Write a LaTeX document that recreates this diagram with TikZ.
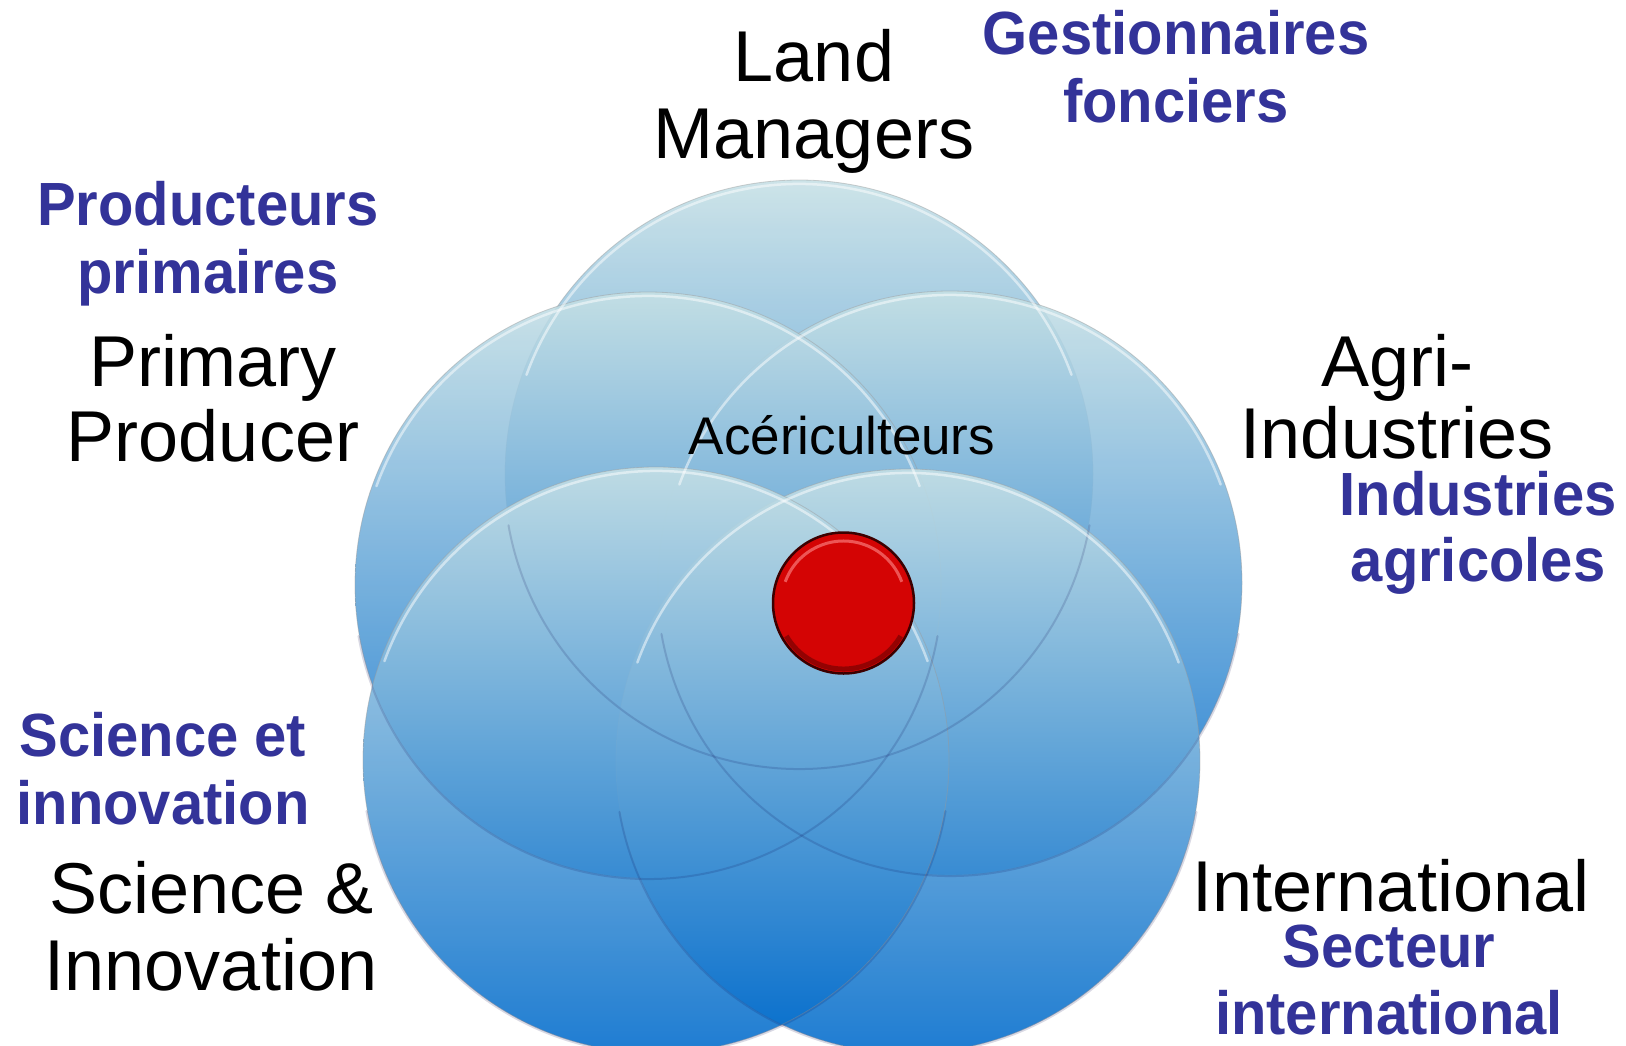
\documentclass[tikz,border=0pt]{standalone}
\usepackage{fontspec}
\setmainfont{Liberation Sans}
\newfontfamily\frfont{Liberation Sans}[FakeStretch=0.95]
\definecolor{ctop}{RGB}{198,224,229}
\definecolor{cmid}{RGB}{84,165,212}
\definecolor{cbot}{RGB}{0,107,204}
\definecolor{frblue}{RGB}{51,51,153}
\definecolor{dotred}{RGB}{212,4,4}
\definecolor{dotedge}{RGB}{60,0,0}
\begin{document}
\begin{tikzpicture}[x=1pt,y=-1pt,
  venn/.style={circle, inner sep=0pt, minimum size=#1, fill opacity=0.88,
    top color=ctop, middle color=cmid, bottom color=cbot,
    draw=black!40, draw opacity=0.45, line width=0.8pt},
  rimhl/.style={white, opacity=0.5, line width=2.5pt, line cap=round},
  rimsh/.style={black!70!blue, opacity=0.15, line width=2pt, line cap=round},
  blk/.style={font=\fontsize{72}{80}\selectfont, anchor=base, inner sep=0pt, text=black},
  frl/.style={font=\frfont\bfseries\fontsize{61}{68}\selectfont, anchor=base, inner sep=0pt, text=frblue},
  center/.style={font=\fontsize{53}{60}\selectfont, anchor=base, inner sep=0pt, text=black}]
\clip (0,0) rectangle (1626,1045);
\fill[white] (0,0) rectangle (1626,1045);

% Venn circles
\node[venn=588pt] (ctop) at (799,474) {};
\node[venn=584pt] (cright) at (950,583) {};
\node[venn=586pt] (cleft) at (648,585) {};
\node[venn=584pt] (cbr) at (908,761) {};
\node[venn=586pt] (cbl) at (656,760) {};

% rim highlights and shadows
\foreach \c/\r in {ctop/294, cright/292, cleft/293, cbr/292, cbl/293}{
  \pgfmathsetmacro{\ri}{\r-4}
  \draw[rimhl] (\c.center) ++(200:\ri) arc[start angle=200, end angle=340, radius=\ri];
  \draw[rimsh] (\c.center) ++(10:\r+1) arc[start angle=10, end angle=170, radius=\r+1];
}

% red dot
\node[circle, minimum size=141pt, inner sep=0pt, fill=dotred, draw=dotedge, line width=2.5pt] (dot) at (843.5,603) {};
\draw[red!45!white, opacity=0.6, line width=3pt] (dot.center) ++(200:62) arc[start angle=200, end angle=340, radius=62];
\draw[black, opacity=0.3, line width=5pt] (dot.center) ++(30:66) arc[start angle=30, end angle=150, radius=66];

% centre label
\node[center] (acer) at (842,454) {Acériculteurs};

% black labels
\node[blk] (land1) at (814,81) {Land};
\node[blk] (land2) at (814,158) {Managers};
\node[blk] (prim1) at (213,386) {Primary};
\node[blk] (prim2) at (213,461) {Producer};
\node[blk] (agri1) at (1397,386) {Agri-};
\node[blk] (agri2) at (1397,458) {Industries};
\node[blk] (sci1) at (212,913) {Science \&};
\node[blk] (sci2) at (211,990) {Innovation};
\node[blk] (intl) at (1391,911) {International};

% French labels
\node[frl] (gest1) at (1176,54) {Gestionnaires};
\node[frl] (gest2) at (1176,122) {fonciers};
\node[frl] (prod1) at (208,225) {Producteurs};
\node[frl] (prod2) at (208,293) {primaires};
\node[frl] (ind1) at (1478,515) {Industries};
\node[frl] (ind2) at (1478,581) {agricoles};
\node[frl] (scf1) at (163,756) {Science et};
\node[frl] (scf2) at (163,824) {innovation};
\node[frl] (sec1) at (1389,967) {Secteur};
\node[frl] (sec2) at (1389,1034) {international};
\end{tikzpicture}
\end{document}
